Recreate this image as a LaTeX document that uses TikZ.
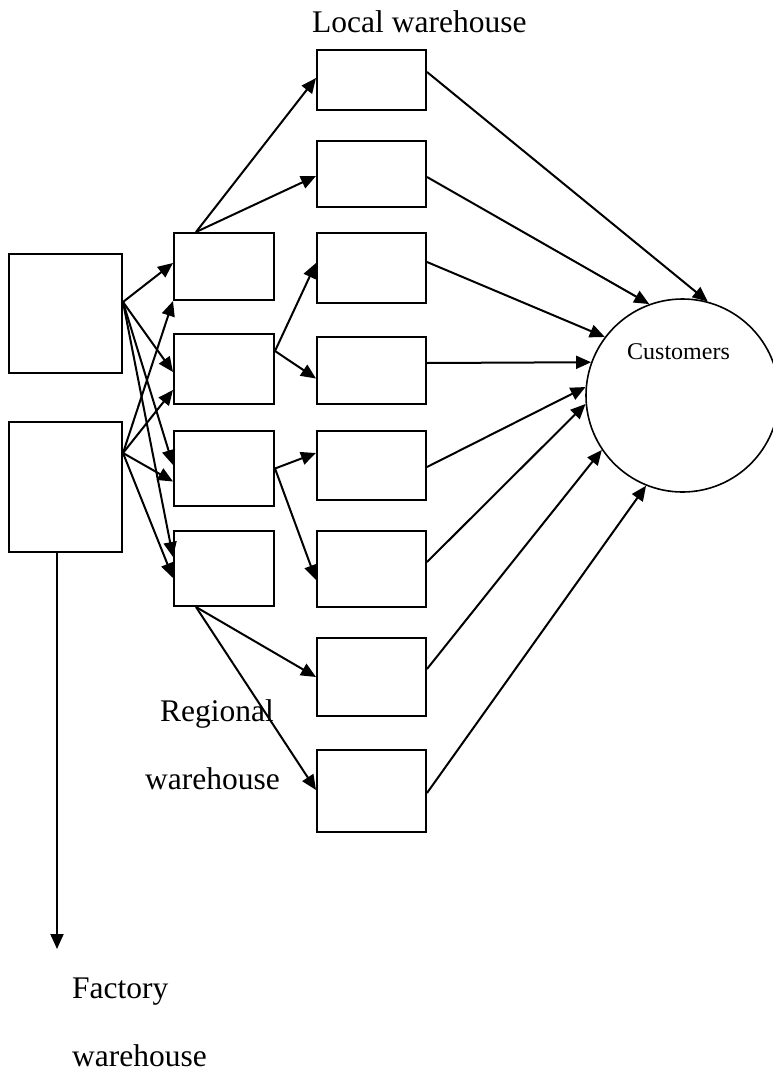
\documentclass[tikz,border=0pt]{standalone}
\usepackage{fontspec}
\setmainfont{Liberation Serif}
\usetikzlibrary{arrows.meta}
\begin{document}
\begin{tikzpicture}[x=1pt,y=-1pt,
  box/.style={draw,line width=2pt,inner sep=0pt,minimum width=#1},
  box/.default=100pt,
  conn/.style={line width=2pt,-{Triangle[length=15pt,width=13pt]}},
  lbl/.style={anchor=base west,inner sep=0pt,font=\fontsize{31.5}{36}\selectfont},
  clbl/.style={anchor=base west,inner sep=0pt,font=\fontsize{24}{28}\selectfont},
  ]
\useasboundingbox (0,0) rectangle (773,1074);
% factory warehouses
\node[box=113pt,minimum height=119pt] (F1) at (65.5,313.5) {};
\node[box=113pt,minimum height=130pt] (F2) at (65.5,487) {};
% regional warehouses
\node[box=100pt,minimum height=67pt] (R1) at (224,266.5) {};
\node[box=100pt,minimum height=70pt] (R2) at (224,369) {};
\node[box=100pt,minimum height=75pt] (R3) at (224,468.5) {};
\node[box=100pt,minimum height=75pt] (R4) at (224,568.5) {};
% local warehouses
\node[box=109pt,minimum height=60pt] (L1) at (371.5,80) {};
\node[box=109pt,minimum height=66pt] (L2) at (371.5,174) {};
\node[box=109pt,minimum height=70pt] (L3) at (371.5,268) {};
\node[box=109pt,minimum height=67pt] (L4) at (371.5,370.5) {};
\node[box=109pt,minimum height=69pt] (L5) at (371.5,465.5) {};
\node[box=109pt,minimum height=76pt] (L6) at (371.5,569) {};
\node[box=109pt,minimum height=78pt] (L7) at (371.5,677) {};
\node[box=109pt,minimum height=82pt] (L8) at (371.5,791) {};
% customers
\node[draw,circle,line width=1.6pt,minimum size=193pt,inner sep=0pt] (C) at (682.5,395.5) {};
\node[clbl] (Ct) at (627,359) {Customers};
% labels
\node[lbl] (tLocal) at (312,32) {Local warehouse};
\node[lbl] (tReg1) at (160,721) {Regional};
\node[lbl] (tReg2) at (145,789) {warehouse};
\node[lbl] (tFac1) at (72,998) {Factory};
\node[lbl] (tFac2) at (72,1066) {warehouse};
% factory -> regional
\draw[conn] ([yshift=11.5pt]F1.east) -- ([yshift=3.5pt]R1.west);
\draw[conn] ([yshift=11.5pt]F1.east) -- ([yshift=-3pt]R2.west);
\draw[conn] ([yshift=11.5pt]F1.east) -- ([yshift=3.5pt]R3.west);
\draw[conn] ([yshift=11.5pt]F1.east) -- ([yshift=11.5pt]R4.west);
\draw[conn] ([yshift=34pt]F2.east) -- (R1.south west);
\draw[conn] ([yshift=34pt]F2.east) -- ([yshift=-21pt]R2.west);
\draw[conn] ([yshift=34pt]F2.east) -- ([yshift=-13pt]R3.west);
\draw[conn] ([yshift=34pt]F2.east) -- ([yshift=-9.5pt]R4.west);
% factory down arrow
\coordinate (fend) at (57,949);
\draw[conn] ([xshift=-8.5pt]F2.south) -- (fend);
% regional -> local
\draw[conn] ([xshift=-28pt]R1.north) -- ([yshift=2pt]L1.west);
\draw[conn] ([xshift=-28pt]R1.north) -- ([yshift=-2pt]L2.west);
\draw[conn] ([yshift=18pt]R2.east) -- ([yshift=5pt]L3.west);
\draw[conn] ([yshift=18pt]R2.east) -- ([yshift=-8pt]L4.west);
\draw[conn] (R3.east) -- ([yshift=12.5pt]L5.west);
\draw[conn] (R3.east) -- ([yshift=-11pt]L6.west);
\draw[conn] ([xshift=-28pt]R4.south) -- (L7.west);
\draw[conn] ([xshift=-28pt]R4.south) -- ([yshift=1pt]L8.west);
% local -> customers
\draw[conn] ([yshift=8pt]L1.east) -- (C.75.2);
\draw[conn] ([yshift=-3pt]L2.east) -- (C.110.8);
\draw[conn] ([yshift=6pt]L3.east) -- (C.143.7);
\draw[conn] ([yshift=7.5pt]L4.east) -- (C.160.3);
\draw[conn] ([yshift=-1.5pt]L5.east) -- (C.175.5);
\draw[conn] ([yshift=7pt]L6.east) -- (C.185.6);
\draw[conn] ([yshift=8pt]L7.east) -- (C.214.9);
\draw[conn] ([yshift=-2pt]L8.east) -- (C.248.8);
\end{tikzpicture}
\end{document}
